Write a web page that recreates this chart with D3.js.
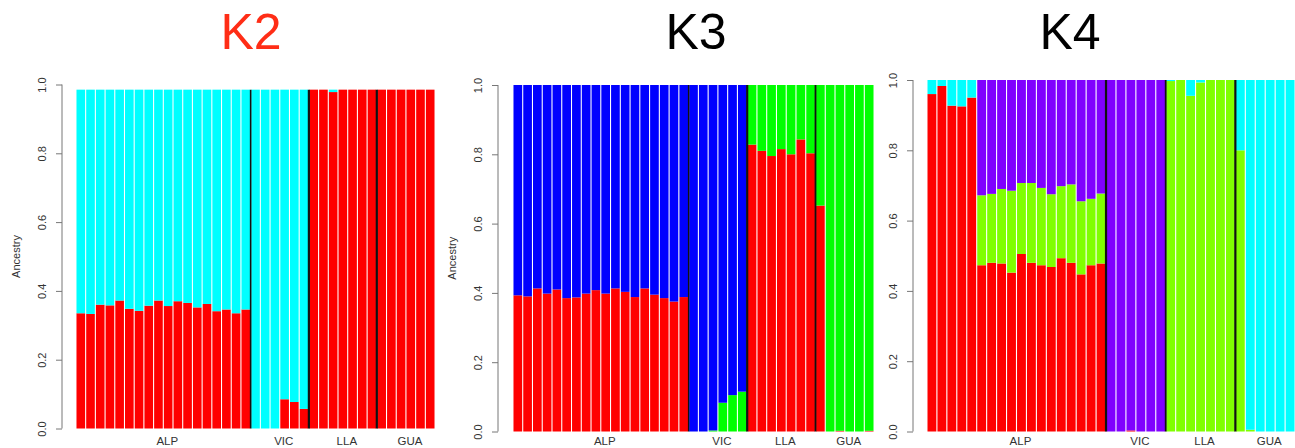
<!DOCTYPE html>
<html>
<head>
<meta charset="utf-8">
<script src="https://cdn.jsdelivr.net/npm/d3@7"></script>
<style>
  body { margin: 0; background: #fff; }
  svg { display: block; font-family: "Liberation Sans", Arial, sans-serif; }
</style>
</head>
<body>
<svg id="chart" width="1295" height="448"></svg>
<script>
// populations and how many individuals each has
var groups = ["ALP", "VIC", "LLA", "GUA"];
var groupSizes = [18, 6, 7, 6];
var yTicks = [0, 0.2, 0.4, 0.6, 0.8, 1.0];

// K2 ancestry proportions (bottom to top: red, cyan)
var k2Red = [0.335,0.333,0.360,0.358,0.372,0.348,0.342,0.357,0.372,0.356,0.370,0.365,0.352,0.362,0.341,0.346,0.335,0.346,
             0,0,0,0.085,0.077,0.057,
             0.985,0.985,0.978,0.985,0.985,0.985,0.985,
             0.985,0.985,0.985,0.985,0.985,0.985];
var k2Cyan = [0.650,0.652,0.625,0.627,0.613,0.637,0.643,0.628,0.613,0.629,0.615,0.620,0.633,0.623,0.644,0.639,0.650,0.639,
              0.985,0.985,0.985,0.900,0.908,0.928,
              0,0,0.007,0,0,0,0,
              0,0,0,0,0,0];

// K3 (red, green, blue)
var k3Red = [0.393,0.390,0.413,0.398,0.410,0.385,0.387,0.398,0.408,0.398,0.413,0.403,0.388,0.413,0.395,0.385,0.375,0.388,
             0,0,0,0,0,0,
             0.828,0.810,0.795,0.815,0.800,0.843,0.803,
             0.652,0,0.002,0,0,0.002];
var k3Green = [0,0,0,0,0,0,0,0,0,0,0,0,0,0,0,0,0,0,
               0,0,0.003,0.083,0.105,0.115,
               0.172,0.190,0.205,0.185,0.200,0.157,0.197,
               0.348,1,0.998,1,1,0.998];
var k3Blue = [0.607,0.610,0.587,0.602,0.590,0.615,0.613,0.602,0.592,0.602,0.587,0.597,0.612,0.587,0.605,0.615,0.625,0.612,
              1,1,0.997,0.917,0.895,0.885,
              0,0,0,0,0,0,0,
              0,0,0,0,0,0];

// K4 (red, green, purple, cyan)
var k4Red = [0.960,0.983,0.927,0.925,0.950,0.473,0.480,0.478,0.452,0.505,0.480,0.473,0.468,0.493,0.480,0.447,0.473,0.478,
             0,0,0.003,0,0,0,
             0,0,0,0,0,0,0,
             0,0,0,0,0,0];
var k4Green = [0,0,0,0,0,0.199,0.196,0.212,0.233,0.202,0.227,0.220,0.207,0.205,0.223,0.208,0.189,0.199,
               0,0,0,0,0,0,
               0.997,1,0.955,0.993,1,1,1,
               0.8,0.005,0,0,0,0];
var k4Purple = [0,0,0,0,0,0.328,0.324,0.310,0.315,0.293,0.293,0.307,0.325,0.302,0.297,0.345,0.338,0.323,
                1,1,0.997,1,1,1,
                0,0,0,0,0,0,0,
                0,0,0,0,0,0];
var k4Cyan = [0.040,0.017,0.073,0.075,0.050,0,0,0,0,0,0,0,0,0,0,0,0,0,
              0,0,0,0,0,0,
              0.003,0,0.045,0.007,0,0,0,
              0.2,0.995,1,1,1,1];

var panels = [
  {title: "K2", titleColor: "#ff2d16", titleX: 251,
   series: [k2Red, k2Cyan], colors: ["#ff0000", "#00ffff"],
   axisX: 62, x0: 76, x1: 435, y0: 428.5, y1: 84.5, ylab: true, sepW: [1.6, 2.2, 2.2]},
  {title: "K3", titleColor: "#000", titleX: 696,
   series: [k3Red, k3Green, k3Blue], colors: ["#ff0000", "#00ff00", "#0000ff"],
   axisX: 498, x0: 513, x1: 874, y0: 431.5, y1: 85, ylab: true, sepW: [1.4, 2.2, 1.8]},
  {title: "K4", titleColor: "#000", titleX: 1070,
   series: [k4Red, k4Green, k4Purple, k4Cyan], colors: ["#ff0000", "#80ff00", "#8000ff", "#00ffff"],
   axisX: 913, x0: 927, x1: 1295, y0: 431.5, y1: 80, ylab: false, sepW: [2.2, 1.8, 2.2]}
];

var svg = d3.select("#chart");
var n = d3.sum(groupSizes);
var bounds = [0];
groupSizes.forEach(function(s, i) { bounds.push(bounds[i] + s); });

panels.forEach(function(p) {
  var g = svg.append("g");

  var x = d3.scaleBand()
    .domain(d3.range(n))
    .range([p.x0, p.x1])
    .paddingInner(0.11)
    .paddingOuter(0.05);

  var y = d3.scaleLinear()
    .domain([0, 1])
    .range([p.y0, p.y1]);

  var keys = p.series.map(function(s, i) { return "s" + i; });
  var rows = d3.range(n).map(function(i) {
    var r = {idx: i};
    p.series.forEach(function(s, k) { r["s" + k] = s[i]; });
    return r;
  });
  var stacked = d3.stack().keys(keys)(rows);

  g.selectAll("g.layer")
    .data(stacked)
    .enter()
      .append("g")
      .attr("class", "layer")
      .attr("fill", function(d, i) { return p.colors[i]; })
    .selectAll("rect")
    .data(function(d) { return d; })
    .enter()
      .append("rect")
      .attr("x", function(d) { return x(d.data.idx); })
      .attr("width", x.bandwidth())
      .attr("y", function(d) { return y(d[1]); })
      .attr("height", function(d) { return Math.max(0, y(d[0]) - y(d[1])); });

  // separators between populations
  var step = x.step();
  var topVal = d3.max(rows, function(r) { return d3.sum(keys, function(k) { return r[k]; }); });
  bounds.slice(1, -1).forEach(function(b, i) {
    var xs = x(b) - step * x.paddingInner() / 2;
    g.append("line")
      .attr("x1", xs).attr("x2", xs)
      .attr("y1", y(0)).attr("y2", y(topVal))
      .attr("stroke", "#111")
      .attr("stroke-width", p.sepW[i]);
  });

  // y axis, R style
  var axis = g.append("g")
    .attr("transform", "translate(" + p.axisX + ",0)")
    .call(d3.axisLeft(y).tickValues(yTicks).tickSize(6).tickFormat(d3.format(".1f")));
  axis.select(".domain").attr("stroke", "#777").attr("d", "M0," + y(0) + "V" + y(1));
  axis.selectAll(".tick line").attr("stroke", "#777");
  axis.selectAll(".tick text")
    .attr("x", 0).attr("y", 0)
    .attr("dy", null)
    .attr("transform", "translate(-16,0) rotate(-90)")
    .attr("text-anchor", "middle")
    .attr("font-size", 11)
    .attr("font-family", "Liberation Sans, Arial, sans-serif")
    .attr("fill", "#333");

  if (p.ylab) {
    g.append("text")
      .attr("transform", "translate(" + (p.axisX - 42) + "," + ((p.y0 + p.y1) / 2) + ") rotate(-90)")
      .attr("text-anchor", "middle")
      .attr("font-size", 11)
      .attr("fill", "#333")
      .text("Ancestry");
  }

  // population labels
  groups.forEach(function(name, i) {
    var cx = (x(bounds[i]) + x(bounds[i + 1] - 1) + x.bandwidth()) / 2 + 4;
    g.append("text")
      .attr("x", cx)
      .attr("y", 445)
      .attr("text-anchor", "middle")
      .attr("font-size", 11.5)
      .attr("fill", "#333")
      .text(name);
  });

  svg.append("text")
    .attr("x", p.titleX)
    .attr("y", 49)
    .attr("text-anchor", "middle")
    .attr("font-size", 50)
    .attr("fill", p.titleColor)
    .text(p.title);
});
</script>
</body>
</html>
